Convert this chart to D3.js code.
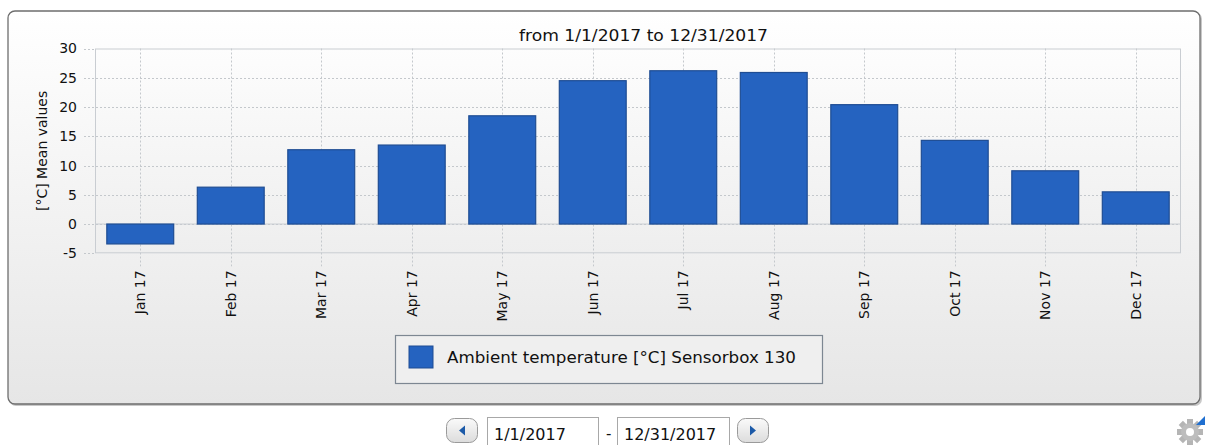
<!doctype html>
<html>
<head>
<meta charset="utf-8">
<title>Mean values</title>
<script src="https://d3js.org/d3.v7.min.js"></script>
<style>
  body { margin: 0; background: #fff; }
  svg text { font-family: "DejaVu Sans", Verdana, sans-serif; fill: #111; }
</style>
</head>
<body>
<svg id="chart" width="1205" height="445"></svg>
<script>
// data
var months = ["Jan 17", "Feb 17", "Mar 17", "Apr 17", "May 17", "Jun 17",
              "Jul 17", "Aug 17", "Sep 17", "Oct 17", "Nov 17", "Dec 17"];
var meanTemp = [-3.4, 6.3, 12.7, 13.5, 18.5, 24.5, 26.2, 25.9, 20.4, 14.3, 9.1, 5.5];
var yTicks = [-5, 0, 5, 10, 15, 20, 25, 30];
var titleText = "from 1/1/2017 to 12/31/2017";
var yLabel = "[°C] Mean values";
var seriesName = "Ambient temperature [°C] Sensorbox 130";
var fromDate = "1/1/2017", toDate = "12/31/2017";

var svg = d3.select("#chart");
var defs = svg.append("defs");

var g1 = defs.append("linearGradient").attr("id", "panelGrad")
  .attr("x1", 0).attr("y1", 0).attr("x2", 0).attr("y2", 1);
g1.append("stop").attr("offset", "0%").attr("stop-color", "#ffffff");
g1.append("stop").attr("offset", "100%").attr("stop-color", "#e6e6e6");

var g2 = defs.append("linearGradient").attr("id", "plotGrad")
  .attr("x1", 0).attr("y1", 0).attr("x2", 0).attr("y2", 1);
g2.append("stop").attr("offset", "0%").attr("stop-color", "#fdfdfd");
g2.append("stop").attr("offset", "100%").attr("stop-color", "#eeeeee");

var g3 = defs.append("linearGradient").attr("id", "btnGrad")
  .attr("x1", 0).attr("y1", 0).attr("x2", 0).attr("y2", 1);
g3.append("stop").attr("offset", "0%").attr("stop-color", "#fafafa");
g3.append("stop").attr("offset", "100%").attr("stop-color", "#dcdcdc");

// outer panel
svg.append("rect")
  .attr("x", 9).attr("y", 12).attr("width", 1193).attr("height", 394)
  .attr("rx", 7).attr("fill", "#c8c8c8");
svg.append("rect")
  .attr("x", 8).attr("y", 11).attr("width", 1192).attr("height", 393)
  .attr("rx", 7).attr("fill", "url(#panelGrad)")
  .attr("stroke", "#6e6e6e").attr("stroke-width", 1.3);

var pLeft = 95, pRight = 1181, pTop = 48.5, pBottom = 253.3;

var x = d3.scaleBand().domain(months).range([pLeft, pRight])
  .paddingInner(0.25).paddingOuter(0.125);
var y = d3.scaleLinear().domain([-5, 30]).range([pBottom, pTop]);

svg.append("rect")
  .attr("x", pLeft).attr("y", pTop).attr("width", pRight - pLeft).attr("height", pBottom - pTop)
  .attr("fill", "url(#plotGrad)");

// grid
var grid = svg.append("g").attr("stroke", "#c4c8cc").attr("stroke-dasharray", "2,2");
grid.selectAll(".hg").data(yTicks.filter(function(d) { return d > -5 && d < 30; }))
  .enter().append("line")
  .attr("x1", pLeft - 11).attr("x2", pRight)
  .attr("y1", function(d) { return Math.round(y(d)) + 0.5; })
  .attr("y2", function(d) { return Math.round(y(d)) + 0.5; });
grid.selectAll(".vg").data(months).enter().append("line")
  .attr("x1", function(d) { return Math.round(x(d) + x.bandwidth() / 2) + 0.5; })
  .attr("x2", function(d) { return Math.round(x(d) + x.bandwidth() / 2) + 0.5; })
  .attr("y1", pTop).attr("y2", pBottom + 13);
grid.selectAll(".tk").data([-5, 30]).enter().append("line")
  .attr("x1", pLeft - 11).attr("x2", pLeft)
  .attr("y1", function(d) { return Math.round(y(d)) + 0.5; })
  .attr("y2", function(d) { return Math.round(y(d)) + 0.5; });

// plot border
svg.append("rect")
  .attr("x", pLeft + 0.5).attr("y", pTop + 0.5)
  .attr("width", pRight - pLeft - 1).attr("height", pBottom - pTop - 1)
  .attr("fill", "none").attr("stroke", "#c9cdd2");

// zero line
svg.append("line")
  .attr("x1", pLeft).attr("x2", pRight)
  .attr("y1", y(0)).attr("y2", y(0))
  .attr("stroke", "#c9cdd2");

// bars
svg.selectAll(".bar").data(meanTemp).enter().append("rect")
  .attr("class", "bar")
  .attr("x", function(d, i) { return x(months[i]) + 0.5; })
  .attr("width", x.bandwidth() - 1)
  .attr("y", function(d) { return y(Math.max(0, d)); })
  .attr("height", function(d) { return Math.abs(y(d) - y(0)); })
  .attr("fill", "#2563c0")
  .attr("stroke", "#1f4d93").attr("stroke-width", 1.2);

// y axis (plain hyphen for negatives, as in the original)
var yAxis = svg.append("g")
  .attr("transform", "translate(" + (pLeft - 18) + ",0)")
  .call(d3.axisLeft(y).tickValues(yTicks).tickSize(0).tickPadding(0)
    .tickFormat(function(d) { return String(d); }));
yAxis.select(".domain").remove();
yAxis.selectAll("text")
  .attr("font-size", 14).attr("font-family", "DejaVu Sans, sans-serif").attr("fill", "#111");

// x axis labels
var xAxis = svg.append("g")
  .attr("transform", "translate(0," + (pBottom + 17) + ")")
  .call(d3.axisBottom(x).tickSize(0).tickPadding(0));
xAxis.select(".domain").remove();
xAxis.selectAll("text")
  .attr("font-size", 14).attr("font-family", "DejaVu Sans, sans-serif").attr("fill", "#111")
  .attr("transform", "rotate(-90)")
  .attr("text-anchor", "end")
  .attr("x", 0).attr("y", 0).attr("dy", "0.35em");

// title
svg.append("text")
  .attr("x", 643.5).attr("y", 41)
  .attr("text-anchor", "middle").attr("font-size", 16)
  .attr("textLength", 249).attr("lengthAdjust", "spacingAndGlyphs")
  .text(titleText);

// y label
svg.append("text")
  .attr("transform", "translate(47," + ((pTop + pBottom) / 2) + ") rotate(-90)")
  .attr("text-anchor", "middle").attr("font-size", 14)
  .text(yLabel);

// legend
var lg = svg.append("g");
lg.append("rect")
  .attr("x", 395.5).attr("y", 335.5).attr("width", 427).attr("height", 48)
  .attr("fill", "#efefef").attr("stroke", "#7d8792").attr("stroke-width", 1.2);
lg.append("rect")
  .attr("x", 409).attr("y", 346).attr("width", 24).attr("height", 22)
  .attr("fill", "#2563c0").attr("stroke", "#1f4d93");
lg.append("text")
  .attr("x", 447).attr("y", 363).attr("font-size", 15)
  .attr("textLength", 349).attr("lengthAdjust", "spacingAndGlyphs")
  .text(seriesName);

// date controls under the panel
function navButton(x0, dir) {
  var b = svg.append("g");
  b.append("rect").attr("x", x0 + 0.5).attr("y", 418.5).attr("width", 31).attr("height", 24)
    .attr("rx", 8).attr("fill", "url(#btnGrad)").attr("stroke", "#9a9a9a");
  var cx = x0 + 16, cy = 430.5;
  var pts = dir < 0
    ? [[cx + 3, cy - 5], [cx + 3, cy + 5], [cx - 3, cy]]
    : [[cx - 3, cy - 5], [cx - 3, cy + 5], [cx + 3, cy]];
  b.append("path").attr("d", "M" + pts.join("L") + "Z").attr("fill", "#1c5aa8");
}
function dateBox(x0, w, label) {
  svg.append("rect").attr("x", x0 + 0.5).attr("y", 417.5).attr("width", w).attr("height", 30)
    .attr("fill", "#fff").attr("stroke", "#a8a8a8");
  svg.append("text").attr("x", x0 + 7).attr("y", 440).attr("font-size", 16).text(label);
}
navButton(446, -1);
dateBox(487, 111, fromDate);
svg.append("text").attr("x", 606).attr("y", 439).attr("font-size", 15).text("-");
dateBox(617, 112, toDate);
navButton(737, 1);

// settings gear at the bottom right
var gear = svg.append("g").attr("transform", "translate(1190,432)");
var teeth = d3.range(8).map(function(i) { return i * 45; });
gear.selectAll("rect").data(teeth).enter().append("rect")
  .attr("x", -3).attr("y", -13).attr("width", 6).attr("height", 7)
  .attr("fill", "#b5b5b5")
  .attr("transform", function(d) { return "rotate(" + d + ")"; });
gear.append("circle").attr("r", 9).attr("fill", "#bdbdbd");
gear.append("circle").attr("r", 4).attr("fill", "#fff");
svg.append("path").attr("d", "M1196,425 L1205,416 L1205,425 Z").attr("fill", "#1f6fd0");
</script>
</body>
</html>
